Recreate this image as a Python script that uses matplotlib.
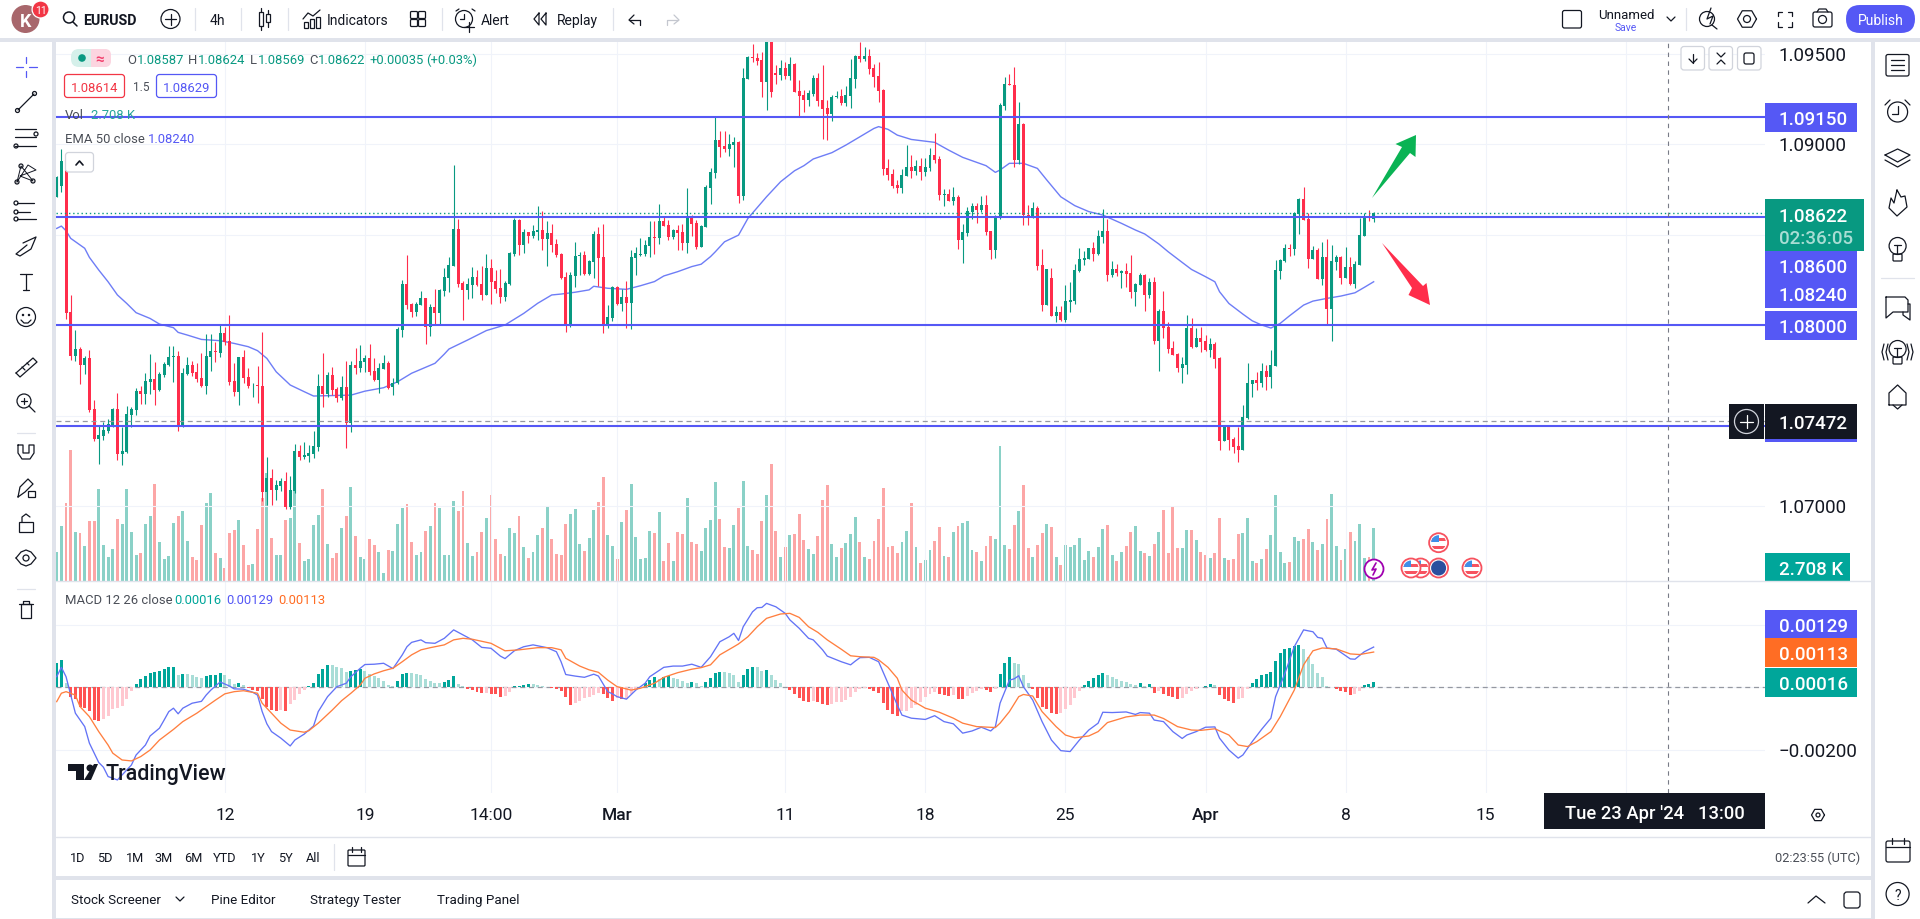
import numpy as np
import matplotlib
matplotlib.use("Agg")
import matplotlib.pyplot as plt
from matplotlib.patches import Rectangle, Circle, Polygon, FancyBboxPatch

plt.rcParams['font.family'] = ['Roboto', 'DejaVu Sans']

W, H = 1920, 919

# candles, in 1e-5 price units
opens = np.array([
    108709, 108770, 108904, 108073, 107829, 107868, 107779, 107818, 107534, 107372,
    107387, 107416, 107446, 107534, 107287, 107298, 107505, 107530, 107635, 107619,
    107687, 107704, 107641, 107724, 107779, 107825, 107829, 107434, 107730, 107779,
    107739, 107707, 107663, 107825, 107855, 107848, 107956, 107912, 107691, 107630,
    107822, 107711, 107667, 107667, 107663, 107077, 107154, 107088, 107112, 107138,
    106996, 107082, 107304, 107270, 107278, 107287, 107328, 107663, 107619, 107724,
    107648, 107595, 107658, 107460, 107779, 107765, 107798, 107818, 107746, 107696,
    107759, 107789, 107656, 107678, 107973, 108228, 108117, 108073, 108113, 108150,
    107992, 108100, 108067, 108191, 108263, 108329, 108532, 108231, 108195, 108222,
    108266, 108228, 108167, 108316, 108244, 108206, 108156, 108228, 108394, 108582,
    108443, 108515, 108493, 108515, 108526, 108477, 108510, 108449, 108394, 108266,
    107997, 108272, 108383, 108388, 108283, 108349, 108504, 108377, 107997, 108040,
    108211, 108117, 108156, 108123, 108372, 108390, 108394, 108438, 108488, 108482,
    108576, 108554, 108488, 108526, 108515, 108455, 108598, 108565, 108432, 108543,
    108759, 108843, 109024, 108991, 108976, 108996, 109013, 108716, 109363, 109483,
    109477, 109466, 109345, 109586, 109394, 109383, 109422, 109378, 109444, 109295,
    109273, 109245, 109278, 109367, 109245, 109201, 109168, 109262, 109267, 109228,
    109267, 109361, 109488, 109472, 109488, 109422, 109378, 109300, 108869, 108836,
    108775, 108758, 108825, 108874, 108852, 108880, 108847, 108869, 108941, 108919,
    108720, 108725, 108686, 108708, 108471, 108509, 108626, 108659, 108637, 108664,
    108520, 108415, 108600, 109212, 109334, 109328, 108913, 109112, 108609, 108592,
    108648, 108332, 108111, 108261, 108050, 108072, 108028, 108128, 108133, 108299,
    108360, 108366, 108427, 108393, 108487, 108521, 108277, 108310, 108288, 108299,
    108288, 108183, 108222, 108277, 108166, 108238, 107912, 108078, 107989, 107873,
    107840, 107763, 107779, 107984, 107879, 107929, 107912, 107862, 107895, 107818,
    107359, 107436, 107370, 107331, 107309, 107486, 107674, 107696, 107680, 107746,
    107713, 107774, 108299, 108355, 108427, 108421, 108615, 108698, 108587, 108366,
    108415, 108255, 108377, 108089, 108349, 108377, 108261, 108321, 108227, 108332,
    108493, 108598, 108587]) / 1e5
highs = np.array([
    108825, 108972, 108913, 108167, 107973, 107877, 107829, 107862, 107586, 107447,
    107466, 107479, 107543, 107623, 107434, 107553, 107549, 107650, 107663, 107737,
    107840, 107798, 107739, 107798, 107884, 107884, 107857, 107761, 107825, 107803,
    107789, 107844, 107949, 107949, 107908, 108001, 107991, 108056, 107792, 107825,
    107862, 107761, 107682, 107774, 107962, 107272, 107202, 107143, 107152, 107187,
    107165, 107342, 107337, 107353, 107337, 107414, 107730, 107848, 107742, 107766,
    107656, 107718, 107801, 107803, 107871, 107890, 107835, 107895, 107816, 107789,
    107835, 107804, 107706, 107992, 108250, 108388, 108124, 108128, 108191, 108150,
    108117, 108200, 108198, 108316, 108375, 108886, 108587, 108246, 108259, 108322,
    108305, 108327, 108394, 108366, 108305, 108311, 108246, 108405, 108593, 108587,
    108532, 108515, 108554, 108659, 108632, 108576, 108560, 108477, 108397, 108294,
    108294, 108460, 108405, 108410, 108361, 108521, 108541, 108560, 108112, 108217,
    108217, 108200, 108244, 108416, 108431, 108482, 108471, 108576, 108576, 108670,
    108604, 108582, 108532, 108554, 108560, 108759, 108609, 108582, 108554, 108775,
    108869, 109149, 109075, 109075, 109057, 109039, 109018, 109422, 109490, 109555,
    109507, 109511, 109632, 109623, 109439, 109466, 109455, 109483, 109450, 109356,
    109300, 109300, 109383, 109394, 109439, 109245, 109273, 109295, 109306, 109323,
    109472, 109494, 109566, 109538, 109527, 109444, 109455, 109306, 108919, 108863,
    108803, 108863, 108996, 108941, 108913, 108924, 108924, 108980, 109063, 108935,
    108753, 108753, 108764, 108720, 108559, 108653, 108675, 108675, 108714, 108720,
    108520, 108609, 109228, 109372, 109389, 109428, 109234, 109118, 108664, 108681,
    108659, 108421, 108310, 108316, 108106, 108106, 108222, 108238, 108338, 108427,
    108410, 108427, 108460, 108526, 108642, 108585, 108355, 108338, 108305, 108344,
    108388, 108233, 108288, 108283, 108261, 108266, 108089, 108189, 108017, 107912,
    107846, 107824, 108056, 108039, 107984, 107989, 107945, 107929, 107907, 107824,
    107442, 107447, 107381, 107436, 107558, 107790, 107696, 107741, 107790, 107779,
    107862, 108360, 108366, 108449, 108449, 108626, 108703, 108764, 108620, 108438,
    108427, 108460, 108476, 108443, 108388, 108382, 108432, 108377, 108355, 108592,
    108620, 108637, 108624]) / 1e5
lows = np.array([
    108709, 108738, 108034, 107807, 107803, 107674, 107730, 107519, 107359, 107232,
    107364, 107401, 107438, 107254, 107226, 107291, 107434, 107503, 107564, 107564,
    107619, 107558, 107637, 107711, 107774, 107687, 107414, 107434, 107722, 107718,
    107687, 107656, 107619, 107748, 107796, 107822, 107890, 107669, 107608, 107558,
    107678, 107650, 107600, 107567, 107029, 107005, 107007, 107032, 107084, 106981,
    106981, 107069, 107254, 107257, 107245, 107263, 107305, 107549, 107604, 107613,
    107576, 107586, 107322, 107411, 107730, 107742, 107742, 107722, 107693, 107623,
    107755, 107645, 107614, 107675, 107936, 108091, 108047, 108051, 108110, 107896,
    107940, 108001, 108006, 108161, 108185, 108327, 108213, 108029, 108145, 108148,
    108217, 108139, 108167, 108117, 108180, 108124, 108136, 108222, 108383, 108388,
    108397, 108456, 108480, 108471, 108416, 108327, 108407, 108375, 108254, 107962,
    107988, 108211, 108277, 108277, 108277, 108261, 108217, 107957, 107984, 108023,
    108112, 108078, 107984, 107979, 108277, 108383, 108383, 108377, 108394, 108449,
    108549, 108471, 108477, 108416, 108416, 108399, 108493, 108421, 108432, 108543,
    108670, 108815, 108932, 108959, 108937, 108874, 108677, 108692, 109361, 109455,
    109439, 109262, 109190, 109262, 109334, 109356, 109361, 109356, 109289, 109151,
    109179, 109212, 109267, 109212, 109029, 109024, 109129, 109256, 109217, 109212,
    109201, 109311, 109455, 109461, 109389, 109317, 109234, 108830, 108803, 108758,
    108731, 108731, 108825, 108814, 108830, 108803, 108825, 108852, 108897, 108692,
    108659, 108686, 108664, 108421, 108343, 108493, 108587, 108565, 108626, 108498,
    108366, 108371, 108587, 109190, 109330, 108874, 108891, 108554, 108554, 108592,
    108305, 108078, 108111, 108050, 108017, 108023, 108017, 108072, 108117, 108294,
    108332, 108366, 108355, 108388, 108454, 108244, 108266, 108272, 108205, 108211,
    108150, 108106, 108222, 108078, 108150, 107895, 107746, 107929, 107846, 107835,
    107741, 107680, 107729, 107873, 107879, 107851, 107857, 107824, 107763, 107309,
    107359, 107309, 107292, 107243, 107309, 107481, 107602, 107641, 107658, 107641,
    107652, 107774, 108255, 108349, 108382, 108388, 108504, 108581, 108316, 108366,
    108255, 108222, 108001, 107912, 108305, 108227, 108261, 108222, 108205, 108332,
    108493, 108576, 108569]) / 1e5
closes = np.array([
    108819, 108908, 108069, 107829, 107868, 107779, 107820, 107530, 107370, 107392,
    107420, 107453, 107536, 107287, 107302, 107508, 107536, 107635, 107619, 107691,
    107704, 107641, 107730, 107785, 107825, 107829, 107434, 107733, 107779, 107737,
    107702, 107663, 107829, 107857, 107851, 107956, 107908, 107687, 107630, 107822,
    107707, 107663, 107671, 107665, 107077, 107154, 107088, 107115, 107138, 106996,
    107088, 107304, 107270, 107281, 107294, 107331, 107663, 107619, 107724, 107641,
    107599, 107656, 107460, 107779, 107765, 107801, 107818, 107742, 107696, 107761,
    107789, 107651, 107680, 107979, 108228, 108113, 108073, 108117, 108150, 107992,
    108100, 108067, 108195, 108266, 108331, 108532, 108228, 108195, 108228, 108266,
    108222, 108167, 108316, 108239, 108200, 108156, 108233, 108399, 108582, 108443,
    108515, 108493, 108521, 108526, 108477, 108510, 108443, 108388, 108261, 107997,
    108277, 108383, 108388, 108283, 108355, 108504, 108372, 107997, 108045, 108211,
    108117, 108156, 108123, 108377, 108399, 108394, 108443, 108488, 108484, 108576,
    108549, 108488, 108526, 108510, 108455, 108598, 108560, 108432, 108549, 108764,
    108847, 109024, 108987, 108972, 109002, 109013, 108716, 109367, 109483, 109479,
    109461, 109345, 109588, 109289, 109383, 109422, 109378, 109444, 109289, 109267,
    109245, 109284, 109367, 109240, 109195, 109168, 109262, 109267, 109228, 109273,
    109367, 109488, 109472, 109488, 109417, 109372, 109295, 108863, 108830, 108769,
    108758, 108830, 108874, 108852, 108880, 108847, 108874, 108941, 108913, 108720,
    108725, 108686, 108708, 108471, 108515, 108631, 108659, 108637, 108664, 108515,
    108415, 108603, 109217, 109334, 109330, 108913, 109112, 108609, 108592, 108648,
    108327, 108111, 108310, 108050, 108072, 108028, 108133, 108139, 108305, 108366,
    108371, 108427, 108393, 108493, 108521, 108277, 108310, 108288, 108299, 108283,
    108183, 108227, 108277, 108166, 108238, 107912, 108078, 107984, 107868, 107835,
    107763, 107785, 107984, 107879, 107929, 107907, 107862, 107895, 107812, 107359,
    107436, 107364, 107326, 107309, 107492, 107680, 107696, 107680, 107746, 107713,
    107779, 108305, 108360, 108427, 108423, 108620, 108698, 108581, 108366, 108415,
    108255, 108377, 108089, 108355, 108377, 108261, 108321, 108227, 108338, 108498,
    108598, 108591, 108622]) / 1e5

volumes = np.array([
    1479, 2805, 3961, 6681, 2499, 2448, 1785, 3060, 3060, 4692,
    1836, 1224, 1632, 3162, 2907, 4692, 2499, 1326, 1428, 2907,
    3315, 4947, 1989, 1122, 1275, 2958, 3315, 3570, 2040, 1224,
    1071, 2856, 3961, 4488, 1428, 1173, 663, 2448, 2601, 3111,
    1836, 816, 867, 2652, 4233, 5508, 2193, 1326, 1326, 3111,
    3213, 4590, 1938, 1020, 1122, 2856, 3366, 4692, 1887, 1173,
    1428, 2703, 3315, 4794, 2295, 1224, 1122, 2142, 1836, 1479,
    408, 1581, 1530, 2907, 3723, 3927, 1989, 1326, 1479, 2550,
    2805, 3978, 3723, 1326, 1326, 4080, 3570, 4590, 1938, 1275,
    1479, 2499, 3213, 4386, 2142, 1377, 1275, 2703, 2448, 3315,
    1734, 1173, 1479, 2346, 2703, 3825, 2142, 1377, 1326, 2907,
    3417, 3672, 1887, 1530, 2193, 3621, 4029, 5304, 2346, 1785,
    1122, 3009, 3621, 4947, 2244, 1122, 1173, 2550, 2448, 3519,
    1020, 1938, 1020, 2499, 2397, 4233, 1989, 1887, 1530, 2703,
    3111, 5049, 3162, 1734, 1683, 2856, 3723, 5100, 1785, 1581,
    1377, 3060, 4386, 5967, 2550, 1224, 1734, 2346, 2397, 3417,
    2091, 1632, 1377, 2295, 4131, 4896, 1887, 1224, 1683, 1938,
    2397, 3264, 1989, 1224, 1122, 2040, 3162, 4743, 1734, 1785,
    1428, 1989, 2550, 3978, 1734, 918, 1071, 1581, 2040, 2754,
    1275, 1224, 2499, 2805, 2958, 3060, 1581, 1479, 1020, 1785,
    2295, 2142, 6885, 1836, 1632, 2856, 3570, 4896, 1683, 1224,
    1836, 2448, 2907, 2754, 1224, 816, 1836, 1734, 1836, 2193,
    1071, 1530, 1224, 1734, 2652, 2856, 1326, 1020, 1479, 1785,
    2499, 2805, 1530, 1428, 1275, 1887, 2499, 3621, 1428, 3774,
    1683, 1683, 2601, 2601, 2091, 1479, 1326, 1173, 1428, 3213,
    1173, 1071, 1122, 2397, 2448, 3213, 1020, 918, 1122, 1632,
    2346, 4386, 1479, 918, 969, 2244, 2040, 2142, 2652, 1989,
    1581, 1887, 3162, 4437, 1785, 1071, 1632, 2499, 2040, 2907,
    1173, 1241, 2708])

# MACD histogram, in 1e-5 units
macd_hist = np.array([
    77, 88, 13, -32, -38, -62, -66, -75, -105, -107,
    -101, -91, -69, -66, -59, -37, -11, 9, 26, 37,
    45, 49, 53, 60, 64, 66, 41, 43, 43, 38,
    32, 30, 36, 38, 41, 45, 41, 27, 11, 15,
    6, -2, -9, -11, -38, -64, -73, -75, -73, -75,
    -53, -41, -23, -9, 3, 13, 43, 58, 73, 72,
    66, 62, 49, 51, 56, 58, 51, 43, 36, 30,
    19, 6, 4, 21, 43, 47, 45, 43, 38, 26,
    19, 15, 15, 17, 23, 36, 11, 4, -4, -9,
    -15, -19, -17, -21, -23, -30, -29, -15, 3, 5,
    7, 11, 10, 6, 4, 2, -2, -6, -13, -30,
    -56, -49, -43, -34, -32, -26, -19, -21, -34, -45,
    -34, -38, -36, -21, -6, 2, 13, 23, 32, 28,
    32, 36, 30, 26, 21, 15, 17, 15, 4, 17,
    30, 45, 49, 48, 45, 41, 17, 41, 60, 66,
    65, 53, 54, 38, 23, 15, 0, -9, -21, -34,
    -43, -47, -45, -47, -53, -58, -53, -47, -46, -41,
    -30, -15, -6, -2, -6, -11, -19, -51, -73, -85,
    -92, -77, -75, -66, -58, -47, -32, -23, -15, -23,
    -26, -27, -26, -36, -38, -28, -19, -13, -4, -9,
    -15, -4, 43, 79, 98, 79, 75, 38, 13, -6,
    -34, -62, -70, -83, -84, -83, -70, -58, -34, -11,
    7, 21, 30, 38, 47, 38, 32, 26, 21, 17,
    9, 8, 13, 4, 9, -17, -11, -21, -28, -32,
    -36, -35, -21, -13, -4, 2, 5, 9, 8, -26,
    -38, -45, -51, -38, -34, -4, 15, 28, 38, 43,
    49, 85, 111, 124, 126, 132, 137, 124, 96, 75,
    47, 34, 4, 1, -4, -11, -15, -26, -21, -11,
    6, 11, 16]) / 1e5

macd_bars = [0, 1, 2, 3, 4, 6, 7, 9, 10, 11, 13, 14, 16, 17, 19, 20, 22, 23, 24, 25,
             26, 27, 29, 31, 32, 33, 35, 37, 38, 40, 42, 43, 44, 45, 46, 48, 50, 51, 53, 55,
             56, 58, 60, 62, 63, 65, 66, 68, 70, 72, 74, 75, 76, 78, 79, 81, 83, 85, 87, 89,
             91, 93, 95, 96, 98, 100, 102, 105, 107, 108, 109, 111, 113, 115, 116, 118, 119, 120, 122, 124,
             126, 127, 130, 132, 134, 136, 138, 140, 142, 144, 145, 146, 147, 149, 150, 151, 152, 154, 156, 157,
             159, 161, 162, 164, 165, 168, 170, 171, 172, 174, 176, 178, 180, 181, 183, 186, 188, 190, 192, 194,
             196, 198, 200, 201, 202, 204, 205, 206, 207, 209, 211, 213, 215, 217, 219, 221, 223, 224, 226, 229,
             231, 232, 234, 235, 237, 239, 241, 242, 244, 246, 248, 249, 251, 253, 254, 256, 258, 260, 261, 263,
             265, 267, 269, 270, 271, 272, 274, 277, 278, 280, 282]
macd_line = np.array([
    34, 64, 34, -25, -83, -126, -179, -241, -256, -286, -297, -281, -249, -217, -185, -156, -131, -105, -78, -67,
    -85, -67, -51, -45, -25, -9, 17, 4, -5, -6, -16, -25, -78, -117, -142, -163, -188, -169, -150, -124,
    -78, -30, 2, 13, 34, 61, 73, 74, 77, 60, 104, 130, 144, 152, 143, 141, 157, 184, 168, 152,
    128, 125, 100, 92, 117, 130, 136, 127, 114, 82, 41, 36, 32, 42, 36, -14, -21, -30, -38, -9,
    13, 34, 64, 68, 68, 74, 64, 98, 146, 162, 173, 150, 194, 242, 255, 256, 269, 258, 237, 216,
    189, 157, 152, 120, 100, 82, 72, 84, 95, 96, 82, 13, -57, -89, -99, -103, -91, -110, -117, -147,
    -140, -128, -140, -126, -51, 23, 27, 37, 2, -41, -110, -169, -203, -206, -169, -137, -115, -80, -81, -79,
    -87, -81, -83, -105, -110, -142, -164, -153, -142, -128, -127, -163, -201, -227, -217, -174, -135, -99, -30, 45,
    130, 184, 178, 160, 157, 126, 122, 91, 90, 114, 129]) / 1e5

signal_bars = [0, 1, 2, 4, 5, 7, 9, 11, 12, 14, 16, 18, 20, 22, 25, 27, 30, 32, 34, 36,
               38, 40, 43, 44, 46, 48, 50, 53, 54, 56, 59, 61, 63, 65, 66, 68, 70, 72, 74, 76,
               78, 80, 83, 85, 87, 89, 93, 96, 99, 103, 106, 108, 109, 112, 114, 116, 118, 120, 123, 125,
               128, 130, 133, 136, 138, 140, 142, 145, 146, 148, 150, 152, 155, 157, 159, 161, 163, 165, 168, 170,
               172, 175, 176, 178, 180, 181, 183, 186, 189, 192, 194, 197, 201, 202, 204, 206, 207, 209, 211, 214,
               216, 218, 221, 223, 225, 229, 232, 235, 237, 240, 243, 245, 248, 251, 253, 255, 257, 260, 262, 265,
               267, 269, 271, 274, 277, 279, 282]
signal_line = np.array([
    -46, -19, -14, -25, -62, -94, -142, -185, -211, -233, -236, -222, -201, -169, -135, -110, -83, -62, -41, -21,
    -14, -11, -19, -51, -83, -115, -137, -144, -139, -115, -73, -43, -19, 7, 29, 43, 53, 61, 82, 104,
    120, 127, 136, 152, 157, 154, 141, 117, 120, 127, 127, 120, 93, 68, 56, 48, 23, 2, -9, -3,
    13, 32, 47, 58, 63, 72, 104, 130, 139, 162, 194, 221, 235, 237, 224, 194, 176, 152, 122, 101,
    98, 96, 88, 64, 29, -9, -41, -67, -80, -99, -115, -126, -129, -115, -78, -30, -23, -28, -78, -126,
    -153, -162, -156, -142, -113, -95, -89, -89, -100, -126, -137, -138, -133, -153, -185, -190, -174, -142, -94, -9,
    72, 117, 126, 123, 107, 105, 113]) / 1e5

ema_bars = [0, 1, 2, 3, 6, 7, 9, 11, 13, 15, 17, 20, 22, 25, 26, 28, 31, 35, 38, 41,
            43, 45, 47, 50, 53, 55, 58, 63, 66, 70, 73, 76, 81, 83, 84, 88, 92, 96, 100, 103,
            106, 108, 111, 114, 115, 118, 122, 125, 128, 130, 133, 136, 138, 140, 141, 143, 146, 148, 152, 155,
            158, 160, 162, 166, 169, 172, 175, 176, 178, 180, 183, 188, 191, 194, 199, 201, 202, 204, 207, 210,
            212, 215, 218, 221, 224, 228, 231, 233, 236, 238, 241, 243, 246, 248, 249, 251, 254, 256, 258, 260,
            262, 264, 267, 269, 272, 275, 278, 280, 282]
ema_line = np.array([
    108535, 108548, 108522, 108480, 108425, 108375, 108305, 108240, 108167, 108120, 108069, 108037, 108006, 107986, 107960, 107945, 107921, 107914, 107899, 107881,
    107859, 107816, 107742, 107669, 107632, 107608, 107610, 107613, 107635, 107654, 107687, 107734, 107789, 107840, 107868, 107918, 107970, 108001, 108065, 108121,
    108167, 108172, 108182, 108195, 108215, 108204, 108198, 108218, 108241, 108272, 108296, 108324, 108337, 108379, 108405, 108461, 108498, 108590, 108710, 108793,
    108854, 108882, 108919, 108954, 108996, 109042, 109088, 109098, 109083, 109051, 109027, 109011, 108968, 108928, 108882, 108845, 108858, 108895, 108895, 108867,
    108803, 108710, 108661, 108628, 108609, 108563, 108526, 108504, 108449, 108406, 108347, 108308, 108268, 108240, 108185, 108120, 108061, 108024, 108001, 107984,
    108010, 108052, 108111, 108133, 108148, 108161, 108179, 108209, 108240]) / 1e5

level_lines = [1.0915, 1.0860, 1.0800, 1.0744]
price_ticks = [1.095, 1.090, 1.085, 1.080, 1.075, 1.070]
price_tick_labels = ['1.09500', '1.09000', '', '', '', '1.07000']
macd_ticks = [0.002, 0.0, -0.002]
macd_tick_labels = ['', '', '\u22120.00200']
time_ticks = [36, 66, 93, 120, 156, 186, 216, 246, 276, 306, 336]
time_labels = ['12', '19', '14:00', 'Mar', '11', '18', '25', 'Apr', '8', '15', '']
last_price = 1.08622
cross_price = 1.07472
cross_bar = 345

UP, DOWN = '#089981', '#ff2d4b'
BLUE = '#5558f5'
INK = '#131722'
GRID = '#f0f3fa'
BAND = '#e0e3eb'
bars = np.arange(len(closes))
up = closes >= opens


def px_axes(left, top, right, bottom, **kw):
    return fig.add_axes([left / W, 1 - bottom / H, (right - left) / W, (bottom - top) / H], **kw)


fig = plt.figure(figsize=(W / 100, H / 100), dpi=100, facecolor=BAND)

# panel backgrounds
bg = px_axes(0, 0, W, H, zorder=0)
bg.set_xlim(0, W); bg.set_ylim(H, 0); bg.axis('off')
for x0, y0, x1, y1 in [(0, 0, W, 38), (0, 42, 52, H), (56, 42, 1871, 876), (56, 880, 1871, 918), (1875, 42, W, H)]:
    bg.add_patch(Rectangle((x0, y0), x1 - x0, y1 - y0, fc='white', ec='none'))

# price pane
ax = px_axes(56, 42, 1765, 581, zorder=2)
ax_vol = ax.twinx()
ax.set_zorder(ax_vol.get_zorder() + 1)
ax.patch.set_visible(False)
ax.set_xlim(-0.15, 365.8)
ax.set_ylim(1.06585, 1.09566)
ax_vol.set_ylim(0, 27489)
ax_vol.set_yticks([])
ax_vol.bar(bars, volumes, width=0.62, color=np.where(up, '#8ad1c7', '#fca6a6'), linewidth=0)

ax.yaxis.tick_right()
ax.set_yticks(price_ticks, price_tick_labels, fontsize=13.5, color=INK)
ax.tick_params(axis='y', length=0, pad=10)
ax.set_xticks(time_ticks, [])
ax.tick_params(axis='x', length=0)
ax.grid(True, color=GRID, lw=0.8)
ax.set_axisbelow(True)
for a in (ax, ax_vol):
    for s in a.spines.values():
        s.set_visible(False)

ax.plot(ema_bars, ema_line, color='#6e7df6', lw=1.0, zorder=2)
colors = np.where(up, UP, DOWN)
ax.vlines(bars, lows, highs, color=colors, lw=0.8, zorder=3)
ax.bar(bars, np.abs(closes - opens), bottom=np.minimum(opens, closes), width=0.64, color=colors, linewidth=0, zorder=3)
for lvl in level_lines:
    ax.axhline(lvl, color=BLUE, lw=1.5, zorder=4)
ax.axhline(last_price, color=UP, lw=1, ls=(0, (1, 2)), zorder=4)
ax.axhline(cross_price, color='#9598a1', lw=0.9, ls=(0, (4, 3)), zorder=4)
ax.axvline(cross_bar, color='#787b86', lw=0.8, ls=(0, (4, 4)), zorder=4)

# MACD pane
ax2 = px_axes(56, 581, 1765, 793, zorder=2)
ax2.set_xlim(-0.15, 365.8)
ax2.set_ylim(-0.003388, 0.003407)
prev = np.r_[macd_hist[0] - 1, macd_hist[:-1]]
hist_colors = np.where(macd_hist >= 0,
                       np.where(macd_hist > prev, '#00a69a', '#a9ddd7'),
                       np.where(macd_hist < prev, '#ff5252', '#ffc8d0'))
ax2.bar(bars, macd_hist, width=0.64, color=hist_colors, linewidth=0, zorder=3)
ax2.axhline(0, color='#9598a1', lw=0.9, ls=(0, (4, 3)), zorder=2)
ax2.plot(macd_bars, macd_line, color='#6373f6', lw=0.95, zorder=4)
ax2.plot(signal_bars, signal_line, color='#ff7f3f', lw=0.95, zorder=5)
ax2.axvline(cross_bar, color='#787b86', lw=0.8, ls=(0, (4, 4)), zorder=4)
ax2.yaxis.tick_right()
ax2.set_yticks(macd_ticks, macd_tick_labels, fontsize=13.5, color=INK)
ax2.tick_params(axis='y', length=0, pad=10)
ax2.set_xticks(time_ticks, time_labels, fontsize=12.5, color=INK)
ax2.tick_params(axis='x', length=0, pad=11)
for lab, txt in zip(ax2.get_xticklabels(), time_labels):
    if txt in ('Mar', 'Apr'):
        lab.set_fontweight('medium')
ax2.grid(True, color=GRID, lw=0.8)
ax2.set_axisbelow(True)
for s in ax2.spines.values():
    s.set_visible(False)

# everything drawn on top, in pixels
ov = px_axes(0, 0, W, H, zorder=10)
ov.set_xlim(0, W); ov.set_ylim(H, 0); ov.axis('off'); ov.patch.set_alpha(0)


def T(x, y, s, size=9.6, color=INK, ha='left', weight='normal'):
    ov.text(x, y, s, fontsize=size, color=color, ha=ha, va='center_baseline', fontweight=weight)


def L(pts, color=INK, lw=0.9, **kw):
    p = np.array(pts, float)
    ov.plot(p[:, 0], p[:, 1], color=color, lw=lw, solid_capstyle='round', **kw)


def C(x, y, r, fc='none', ec=INK, lw=0.9):
    c = Circle((x, y), r, fc=fc, ec=ec, lw=lw)
    ov.add_patch(c)
    return c


def R(x0, y0, x1, y1, fc='none', ec='none', lw=0.9, rnd=0):
    if rnd:
        ov.add_patch(FancyBboxPatch((x0 + rnd, y0 + rnd), x1 - x0 - 2 * rnd, y1 - y0 - 2 * rnd,
                                    boxstyle='round,pad=%g' % rnd, fc=fc, ec=ec, lw=lw))
    else:
        ov.add_patch(Rectangle((x0, y0), x1 - x0, y1 - y0, fc=fc, ec=ec, lw=lw))


# pane separators
L([(56, 581), (1871, 581)], BAND, 1.0)
L([(56, 837), (1871, 837)], BAND, 1.0)

# top toolbar
C(25.5, 19, 14, fc='#a8676c', ec='none')
T(25.5, 20, 'K', 13, 'white', 'center', 'bold')
C(40.6, 9.5, 8.5, fc='#f23645', ec='white')
T(40.6, 10, '11', 7.5, 'white', 'center')
C(69, 17.5, 5.5, lw=1.1); L([(73, 22), (77, 26)], lw=1.1)
T(83, 19.5, 'EURUSD', 10.2, INK, 'left', 'bold')
C(170.5, 19, 9.5); L([(165, 19), (176, 19)]); L([(170.5, 13.5), (170.5, 24.5)])
for sx in (194.6, 240.5, 287.5, 441.5, 612.5, 1686):
    L([(sx, 8), (sx, 30)], BAND, 0.9)
T(217, 19.5, '4h', 10, INK, 'center')
R(259, 12, 263, 26, ec=INK); L([(261, 8), (261, 12)]); L([(261, 26), (261, 30)])
R(266, 14, 270, 22, ec=INK); L([(268, 10), (268, 14)]); L([(268, 22), (268, 27)])
L([(303, 19), (308, 13), (313, 16), (320, 10)])
R(304, 22, 308, 28, ec=INK); R(310, 19, 314, 28, ec=INK); R(316, 17, 320, 28, ec=INK)
T(327, 19.5, 'Indicators', 10)
for gx, gy in [(414, 15), (422, 15), (414, 23), (422, 23)]:
    R(gx - 3.5, gy - 3.5, gx + 3.5, gy + 3.5, ec=INK, rnd=1)
C(464, 19, 8.5); L([(464, 14), (464, 19), (460, 19)]); L([(464, 27), (474, 27)]); L([(469, 22), (469, 32)])
L([(456, 11), (459, 9)]); L([(472, 9), (475, 11)])
T(481, 19.5, 'Alert', 10)
L([(539, 13), (534, 19), (539, 25), (539, 13)]); L([(546, 13), (541, 19), (546, 25), (546, 13)])
T(557, 19.5, 'Replay', 10)
L([(640, 25), (640, 20), (630, 20)]); L([(634, 15), (629, 20), (634, 24)])
L([(667, 25), (667, 20), (678, 20)], '#c4c7cf'); L([(674, 15), (679, 20), (674, 24)], '#c4c7cf')
R(1562.5, 10.5, 1581.5, 28, ec=INK, rnd=2)
T(1626, 14, 'Unnamed', 9.5, INK, 'center')
T(1626, 27, 'Save', 7.5, BLUE, 'center')
L([(1667, 17), (1671, 21), (1675, 17)])
C(1707, 19, 7.5); L([(1712, 25), (1717, 29)]); L([(1711, 8), (1707, 19), (1713, 16), (1710, 24)])
hx = 1747 + 9.5 * np.cos(np.arange(7) * np.pi / 3)
hy = 19 + 9.5 * np.sin(np.arange(7) * np.pi / 3)
L(np.c_[hx, hy]); C(1747, 19, 3.5)
for sx, sy in [(-1, -1), (1, -1), (-1, 1), (1, 1)]:
    L([(1785 + sx * 7, 19 + sy * 3), (1785 + sx * 7, 19 + sy * 7.5), (1785 + sx * 3, 19 + sy * 7.5)])
R(1813, 12, 1832, 27, ec=INK, rnd=2); C(1822.5, 19.5, 4); L([(1817, 12), (1819, 9), (1826, 9), (1828, 12)])
R(1846, 5, 1915, 33, fc='#5558f5', rnd=14)
T(1880.5, 19.5, 'Publish', 10, 'white', 'center')

# left toolbar
L([(26, 57), (26, 63)], BLUE); L([(26, 71), (26, 77)], BLUE); L([(16, 66.5), (23, 66.5)], BLUE); L([(29, 66.5), (37, 66.5)], BLUE)
L([(18, 110), (34, 94)]); C(17.5, 110.5, 2); C(34.5, 93.5, 2)
for fy in (129, 137, 146):
    L([(15, fy), (36, fy)])
C(36, 134, 2); C(16, 146, 2)
L([(17, 182), (21, 166), (33, 181), (20, 176), (36, 170), (28, 165), (17, 182)], lw=0.7); C(17, 182, 2); C(21, 166, 2); C(33, 181, 2)
for fy, ex in ((203, 34), (212, 30), (219, 36)):
    L([(17, fy), (ex, fy)])
    C(16, fy, 2)
L([(23, 243), (36, 237), (31, 249), (20, 256), (16, 254), (27, 245)])
L([(20, 274), (32, 274)]); L([(26, 274), (26, 290)]); L([(23, 290), (29, 290)])
C(26, 317, 9.5); C(23, 315, 0.6); C(29, 315, 0.6); L([(21, 320), (24, 323), (28, 323), (31, 320)])
L([(16, 373), (33, 358), (37, 362), (20, 377), (16, 373)]); L([(22, 367), (25, 370)]); L([(27, 363), (29, 365)])
C(24, 401, 7); L([(29, 406), (35, 412)]); L([(21, 401), (27, 401)]); L([(24, 398), (24, 404)])
L([(17, 433), (35, 433)], BAND)
L([(18, 445), (18, 453), (22, 459), (30, 459), (34, 453), (34, 445), (29, 445), (29, 453), (23, 453), (23, 445), (18, 445)])
L([(18, 497), (20, 487), (28, 479), (33, 484), (25, 492), (18, 497)]); R(28, 491, 35, 497, ec=INK)
R(19, 522, 33, 532, ec=INK); L([(22, 522), (22, 517), (26, 514), (30, 517)])
L([(16, 558), (21, 552), (26, 550), (31, 552), (36, 558), (31, 564), (26, 566), (21, 564), (16, 558)]); C(26, 558, 3)
L([(17, 589), (35, 589)], BAND)
L([(19, 604), (33, 604)]); L([(23, 604), (23, 601), (29, 601), (29, 604)]); R(21, 604, 31, 618, ec=INK)

# right toolbar
for hy_ in (60, 65, 70):
    L([(1891, hy_), (1904, hy_)])
R(1886, 54.5, 1909, 76, ec=INK, rnd=2)
C(1897.6, 112, 10); L([(1897.6, 106), (1897.6, 114), (1892, 114)]); L([(1885, 105), (1890, 100)]); L([(1905, 100), (1910, 105)])
L([(1885, 155), (1897.6, 149), (1910, 155), (1897.6, 162), (1885, 155)]); L([(1885, 160), (1897.6, 167), (1910, 160)])
L([(1897, 190), (1901, 197), (1905, 196), (1907, 207), (1897, 216), (1889, 208), (1891, 198), (1894, 203), (1897, 190)])
for by in (249, 352):
    C(1897.6, by - 3, 8.5)
    L([(1897, by - 4), (1897, by + 4)]); L([(1894, by - 4), (1901, by - 4)])
    R(1893, by + 5, 1902, by + 12, ec=INK, rnd=1)
for gx in (1884, 1888, 1907, 1911):
    L([(gx, 344), (gx - 2 if gx < 1890 else gx + 2, 352), (gx, 360)])
L([(1881, 278), (1914, 278)], BAND)
L([(1886, 297), (1905, 297), (1908, 300), (1908, 312), (1893, 312), (1886, 318), (1886, 297)])
L([(1908, 304), (1910, 304), (1910, 320), (1903, 315), (1903, 312)])
L([(1889, 405), (1889, 393), (1897.6, 385), (1906, 393), (1906, 405), (1889, 405)]); L([(1893, 405), (1897.6, 409), (1902, 405)])
R(1886, 841, 1910, 862, ec=INK, rnd=2); L([(1886, 847), (1910, 847)]); L([(1892, 838), (1892, 844)]); L([(1904, 838), (1904, 844)])
C(1897.6, 894, 11.5); T(1897.6, 894, '?', 10, INK, 'center')

# top-left legend
R(71, 49, 111, 67, fc='#d5f0ea', rnd=8)
R(91, 49, 111, 67, fc='#fcd5e0', rnd=6)
R(91, 49, 98, 67, fc='#fcd5e0')
C(82, 58, 3.8, fc=UP, ec='none')
T(100, 58, '\u2248', 11, '#f23f6c', 'center', 'bold')
GREY = '#4a4e57'
TEAL = '#089981'
for x_, s_, c_ in [(127, 'O', GREY), (137, '1.08587', TEAL), (188, 'H', GREY), (198, '1.08624', TEAL),
                   (250, 'L', GREY), (258, '1.08569', TEAL), (309, 'C', GREY), (318, '1.08622', TEAL),
                   (369, '+0.00035', TEAL), (426, '(+0.03%)', TEAL)]:
    T(x_, 59, s_, 9.4, c_)
R(64.5, 74.5, 124.5, 97.5, fc='white', ec='#f23645', rnd=3)
T(94.5, 87, '1.08614', 9.4, '#f23645', 'center')
T(141, 86, '1.5', 8.5, GREY, 'center')
R(156.5, 74.5, 216.5, 97.5, fc='white', ec=BLUE, rnd=3)
T(186.5, 87, '1.08629', 9.4, BLUE, 'center')
T(65, 114, 'Vol', 9.4, GREY)
T(91, 114, '2.708 K', 9.4, '#26a69a')
T(65, 138, 'EMA 50 close', 9.4, GREY)
T(148, 138, '1.08240', 9.4, BLUE)
R(65.5, 152.5, 93.5, 172, fc='white', ec='#d1d4dc', rnd=3)
L([(76, 165), (79.5, 161), (83, 165)], lw=1.2)
T(65, 599, 'MACD 12 26 close', 9.4, GREY)
T(174, 599, '0.00016', 9.4, '#00a69a')
T(226, 599, '0.00129', 9.4, BLUE)
T(278, 599, '0.00113', 9.4, '#ff6d24')

# TradingView logo
ov.add_patch(Polygon([(68, 764), (84, 764), (84, 780), (76, 780), (76, 771), (68, 771)], fc=INK, ec='none'))
C(90, 768, 3.5, fc=INK, ec='none')
ov.add_patch(Polygon([(94, 764), (98, 764), (91, 780), (84, 780)], fc=INK, ec='none'))
T(106, 772, 'TradingView', 15.5, INK, 'left', 'medium')

# chart corner buttons
for bx in (1681, 1709, 1737.5):
    R(bx, 46.5, bx + 23.5, 70, fc='white', ec='#d1d4dc', rnd=3)
L([(1693, 54), (1693, 63)]); L([(1689, 59), (1693, 63), (1697, 59)])
L([(1717, 53), (1721, 57), (1725, 53)]); L([(1717, 64), (1721, 60), (1725, 64)])
R(1744, 53, 1754, 64, ec=INK, rnd=2)

# trade arrows
ov.add_patch(Polygon([(1372, 198), (1402, 147), (1395.5, 144), (1416, 135), (1415.5, 157), (1410, 153)], fc='#0ab354', ec='none'))
ov.add_patch(Polygon([(1382, 243), (1423, 286), (1426.5, 283), (1430, 305), (1408.5, 295), (1412, 288)], fc='#ff2d4b', ec='none'))

# price-axis tags
R(1765, 103, 1857, 132, fc=BLUE); T(1779, 118, '1.09150', 13.5, 'white', weight='medium')
R(1765, 251, 1857, 279, fc=BLUE); T(1779, 266, '1.08600', 13.5, 'white', weight='medium')
R(1765, 279, 1857, 308, fc=BLUE); T(1779, 294, '1.08240', 13.5, 'white', weight='medium')
R(1765, 311, 1857, 340, fc=BLUE); T(1779, 326, '1.08000', 13.5, 'white', weight='medium')
R(1765, 199, 1864, 251, fc=UP)
T(1779, 214.5, '1.08622', 13.5, 'white', weight='medium')
T(1779, 237.5, '02:36:05', 13.5, '#a9ddd4', weight='medium')
R(1765, 404, 1857, 439, fc=INK); R(1765, 439, 1857, 442, fc=BLUE)
T(1779, 422, '1.07472', 13.5, 'white', weight='medium')
R(1729, 404, 1764, 439, fc=INK)
C(1746.5, 421.5, 12, ec='#d1d4dc'); L([(1740, 421.5), (1753, 421.5)], 'white'); L([(1746.5, 415), (1746.5, 428)], 'white')
R(1765, 553, 1850, 581, fc='#00a69a'); T(1779, 568, '2.708 K', 13.5, 'white', weight='medium')
R(1765, 610, 1857, 638, fc=BLUE); T(1779, 625, '0.00129', 13.5, 'white', weight='medium')
R(1765, 638, 1857, 667, fc='#ff6d24'); T(1779, 653, '0.00113', 13.5, 'white', weight='medium')
R(1765, 668, 1857, 697, fc='#00a69a'); T(1779, 683, '0.00016', 13.5, 'white', weight='medium')


# event markers
def flag(x, y, eu=False):
    C(x, y, 9.5, fc='white', ec='#f7525f', lw=1.3)
    clip = Circle((x, y), 7.5, transform=ov.transData)
    pieces = []
    if eu:
        pieces.append(Rectangle((x - 8, y - 8), 16, 16, fc='#2b4f9e', ec='none'))
    else:
        pieces.append(Rectangle((x - 8, y - 4.5), 16, 3, fc='#f7525f', ec='none'))
        pieces.append(Rectangle((x - 8, y + 3), 16, 3, fc='#f7525f', ec='none'))
        pieces.append(Rectangle((x - 8, y - 8), 8, 7, fc='#3f8fe8', ec='none'))
    for p in pieces:
        ov.add_patch(p)
        p.set_clip_path(clip)


flag(1420.6, 568)
flag(1411, 568)
flag(1438.6, 568, eu=True)
flag(1438.6, 542.7)
flag(1472, 568)
C(1374, 569, 9.5, fc='white', ec='#a000b0', lw=1.3)
L([(1376, 563), (1372, 570), (1376, 569), (1373, 575)], '#a000b0', 1.2)

# time axis extras
R(1544, 793, 1765, 829, fc=INK)
T(1654.5, 812, "Tue 23 Apr '24   13:00", 13.2, 'white', 'center', 'medium')
gx_ = 1818 + 6.5 * np.cos(np.arange(7) * np.pi / 3)
gy_ = 815 + 6.5 * np.sin(np.arange(7) * np.pi / 3)
L(np.c_[gx_, gy_]); C(1818, 815, 2)

# range row
for x_, s_ in zip([78, 105, 135, 164, 193, 225, 258, 285, 313], ['1D', '5D', '1M', '3M', '6M', 'YTD', '1Y', '5Y', 'All']):
    T(x_, 857, s_, 9.2, INK, 'center')
L([(334, 844), (334, 870)], BAND)
R(348, 850, 365, 866, ec=INK, rnd=1); L([(348, 855), (365, 855)]); L([(352, 847), (352, 852)]); L([(361, 847), (361, 852)])
T(1860, 857, '02:23:55 (UTC)', 9.2, GREY, 'right')

# bottom bar
T(71, 899, 'Stock Screener', 9.6)
L([(176, 897), (180, 901), (184, 897)])
T(211, 899, 'Pine Editor', 9.6)
T(310, 899, 'Strategy Tester', 9.6)
T(437, 899, 'Trading Panel', 9.6)
L([(1808, 903), (1816, 896), (1825, 903)])
R(1844, 892, 1860, 908, ec=INK, rnd=3)

fig.savefig('out.png', dpi=100, facecolor=BAND)
